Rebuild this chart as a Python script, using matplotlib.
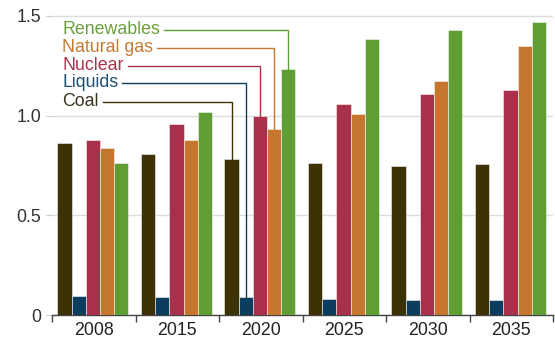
import matplotlib
matplotlib.use("Agg")
import matplotlib.pyplot as plt
import numpy as np

plt.rcParams['font.family'] = ['Liberation Sans', 'DejaVu Sans']

years = ["2008", "2015", "2020", "2025", "2030", "2035"]
series = ["Coal", "Liquids", "Nuclear", "Natural gas", "Renewables"]
coal = [0.865, 0.81, 0.785, 0.76, 0.745, 0.755]
liquids = [0.095, 0.088, 0.088, 0.082, 0.075, 0.075]
nuclear = [0.88, 0.96, 1.0, 1.06, 1.11, 1.13]
natural_gas = [0.84, 0.88, 0.935, 1.01, 1.175, 1.35]
renewables = [0.76, 1.02, 1.235, 1.385, 1.43, 1.47]
values = [coal, liquids, nuclear, natural_gas, renewables]
colors = ["#3d3206", "#0c3d5e", "#a8304a", "#c6772d", "#5f9e35"]
text_colors = ["#3a3320", "#1d4f73", "#a8344c", "#c27a33", "#6a9f3e"]
label_year = 2  # labels point to the 2020 group

fig = plt.figure(figsize=(5.55, 3.38), dpi=100)
ax = fig.add_axes([52/555, 23/338, 501/555, (315-10)/338])

x = np.arange(len(years))
w = 0.17
centers = {}
for i, (name, vals, c) in enumerate(zip(series, values, colors)):
    off = (i - 2) * w - 0.01
    ax.bar(x + off, vals, width=w, color=c, edgecolor="#f4f4f4", linewidth=0.4, zorder=3)
    centers[name] = x[label_year] + off

ax.set_xlim(-0.5, len(years) - 0.5)
ax.set_ylim(0, 1.53)
ax.set_yticks([0, 0.5, 1.0, 1.5])
ax.set_yticklabels(["0", "0.5", "1.0", "1.5"])
ax.yaxis.grid(True, color="#dcdcdc", linewidth=1, zorder=0)
ax.set_axisbelow(True)

ax.set_xticks(x)
ax.set_xticklabels(years)
ax.set_xticks(np.arange(-0.5, len(years), 1.0), minor=True)
ax.tick_params(axis="x", which="major", length=0, pad=5, labelsize=12.8, colors="#222222")
ax.tick_params(axis="x", which="minor", length=5, width=1, color="#444444")
ax.tick_params(axis="y", length=4, color="#cccccc", labelsize=12.8, labelcolor="#333333", pad=4)

for s in ["top", "right", "left"]:
    ax.spines[s].set_visible(False)
ax.spines["bottom"].set_color("#444444")
ax.spines["bottom"].set_linewidth(1)

# legend labels with leader lines
label_order = ["Renewables", "Natural gas", "Nuclear", "Liquids", "Coal"]
label_y = [1.43, 1.34, 1.25, 1.165, 1.07]
text_x = -0.38
fig.canvas.draw()
renderer = fig.canvas.get_renderer()
for name, ty in zip(label_order, label_y):
    i = series.index(name)
    t = ax.text(text_x, ty, name, color=text_colors[i], fontsize=12.8,
                va="center", ha="left", zorder=5)
    bb = t.get_window_extent(renderer=renderer)
    x_end = ax.transData.inverted().transform((bb.x1 + 4, 0))[0]
    bx = centers[name]
    top = values[i][label_year]
    ax.plot([x_end, bx, bx], [ty, ty, top], color=colors[i], linewidth=1.0,
            zorder=4, solid_joinstyle="miter")

fig.savefig("out.png", dpi=100)
